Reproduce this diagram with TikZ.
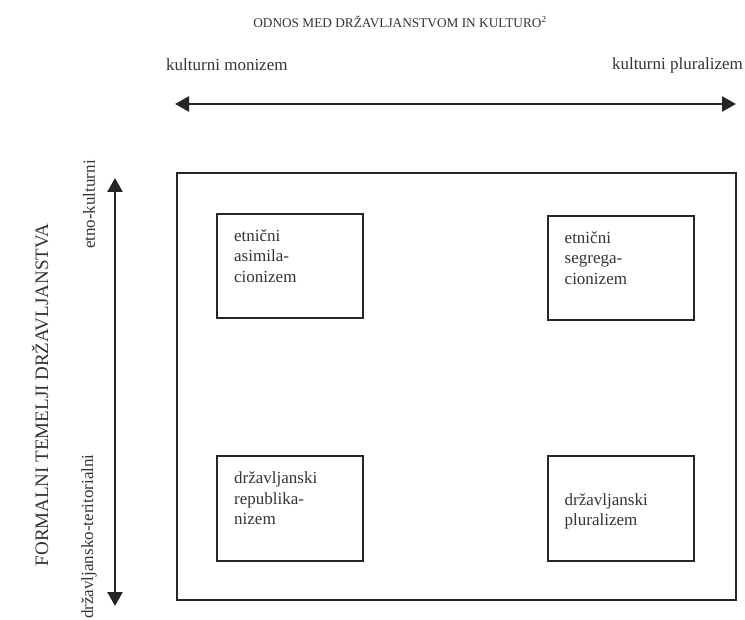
\documentclass[tikz,border=0pt]{standalone}
\usepackage{fontspec}
\setmainfont{Liberation Serif}
\usetikzlibrary{arrows.meta}
\begin{document}
\begin{tikzpicture}[x=1pt,y=-1pt,
  txt/.style={font=\fontsize{17}{20.5}\selectfont, text=black!80, inner sep=0pt, align=left},
  titletxt/.style={font=\fontsize{13.3}{15}\selectfont, text=black!80, inner sep=0pt},
  vtitletxt/.style={font=\fontsize{19}{21}\selectfont, text=black!80, inner sep=0pt, rotate=90},
  frame/.style={draw=black!85, line width=2pt, inner sep=0pt},
  box/.style={draw=black!85, line width=2pt, inner sep=0pt, minimum width=146pt, minimum height=104pt},
  axis/.style={draw=black!85, line width=2.6pt, {Triangle[length=14pt,width=15pt]}-{Triangle[length=14pt,width=15pt]}}
]
\useasboundingbox (0,0) rectangle (745,620);
% title
\node[titletxt] (title) at (400,22) {ODNOS MED DRŽAVLJANSTVOM IN KULTURO\textsuperscript{2}};
\node[txt, anchor=west] (mon) at (166,65) {kulturni monizem};
\node[txt, anchor=east] (plu) at (743,65) {kulturni pluralizem};
\coordinate (hl) at (175,104);
\coordinate (hr) at (736,104);
\draw[axis] (hl) -- (hr);
% vertical
\node[vtitletxt] (vt) at (40,395) {FORMALNI TEMELJI DRŽAVLJANSTVA};
\node[txt, rotate=90, anchor=east] (etno) at (89,160) {etno-kulturni};
\node[txt, rotate=90, anchor=west] (drz) at (89,619) {državljansko-teritorialni};
\coordinate (vt1) at (115,178);
\coordinate (vb1) at (115,606);
\draw[axis] (vt1) -- (vb1);
% frame
\node[frame, minimum width=559pt, minimum height=427pt] (fr) at (456.5,386.5) {};
% boxes
\node[box] (b1) at (290,266) {};
\node[box] (b2) at (620.5,268) {};
\node[box] (b3) at (290,508.5) {};
\node[box] (b4) at (620.5,508.5) {};
\node[txt, anchor=north west] (t1) at ([xshift=18pt,yshift=-16pt]b1.north west) {etnični\\asimila-\\cionizem};
\node[txt, anchor=north west] (t2) at ([xshift=18pt,yshift=-16pt]b2.north west) {etnični\\segrega-\\cionizem};
\node[txt, anchor=north west] (t3) at ([xshift=18pt,yshift=-16pt]b3.north west) {državljanski\\republika-\\nizem};
\node[txt, anchor=west] (t4) at ([xshift=18pt,yshift=-3pt]b4.west) {državljanski\\pluralizem};
\end{tikzpicture}
\end{document}
